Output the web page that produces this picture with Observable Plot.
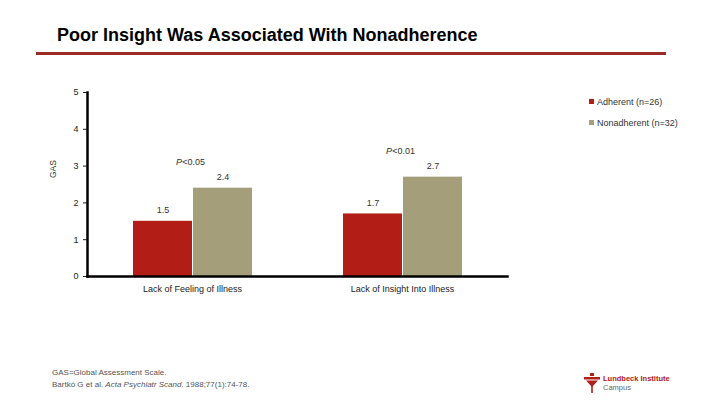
<!DOCTYPE html>
<html><head><meta charset="utf-8">
<script src="https://cdn.jsdelivr.net/npm/d3@7"></script>
<script src="https://cdn.jsdelivr.net/npm/@observablehq/plot@0.6"></script>
<style>
  html, body { margin: 0; padding: 0; background: #fff; }
  #page { position: relative; width: 720px; height: 405px; overflow: hidden; background: #fff; font-family: "Liberation Sans", Arial, sans-serif; }
  #title { position: absolute; left: 57px; top: 25px; font-size: 18px; font-weight: bold; color: #000; white-space: nowrap; }
  #rule { position: absolute; left: 36px; top: 52px; width: 630px; height: 3px; background: #9b2b24; }
  #chart { position: absolute; left: 0; top: 60px; }
  #ylab { position: absolute; left: 46px; top: 166px; font-size: 8.5px; color: #333; transform: rotate(-90deg); transform-origin: center; width: 14px; text-align: center; }
  .leg { position: absolute; left: 589px; font-size: 9px; color: #333; white-space: nowrap; }
  .leg i { display: inline-block; width: 5px; height: 5px; margin-right: 3px; vertical-align: 1px; }
  #foot1 { position: absolute; left: 52px; top: 368px; font-size: 8px; color: #555; white-space: nowrap; }
  #foot2 { position: absolute; left: 52px; top: 380px; font-size: 8px; color: #555; white-space: nowrap; }
  #logo { position: absolute; left: 584px; top: 373px; }
  #logo1 { position: absolute; left: 603px; top: 374px; font-size: 7.5px; font-weight: bold; color: #b0201a; white-space: nowrap; }
  #logo2 { position: absolute; left: 603px; top: 383px; font-size: 7.5px; color: #666; white-space: nowrap; }
</style>
</head><body>
<div id="page">
  <div id="title">Poor Insight Was Associated With Nonadherence</div>
  <div id="rule"></div>
  <div id="chart"></div>
  <div id="ylab">GAS</div>
  <div id="legend"></div>
  <div id="foot1">GAS=Global Assessment Scale.</div>
  <div id="foot2">Bartkó G et al. <i>Acta Psychiatr Scand.</i> 1988;77(1):74-78.</div>
  <svg id="logo" width="16" height="20" viewBox="0 0 16 20">
    <rect x="6" y="0" width="4" height="3" fill="#b0201a"/>
    <rect x="0" y="4" width="16" height="2.5" fill="#b0201a"/>
    <path d="M2 7.5 L14 7.5 L8 14 Z" fill="#b0201a"/>
    <rect x="7.2" y="12" width="1.6" height="8" fill="#b0201a"/>
  </svg>
  <div id="logo1">Lundbeck Institute</div>
  <div id="logo2">Campus</div>
</div>
<script>
const categories = ["Lack of Feeling of Illness", "Lack of Insight Into Illness"];
const seriesNames = ["Adherent (n=26)", "Nonadherent (n=32)"];
const adherentValues = [1.5, 1.7];
const nonadherentValues = [2.4, 2.7];
const pLabels = ["P<0.05", "P<0.01"];
const yTicks = [0, 1, 2, 3, 4, 5];
const colors = ["#b21e16", "#a59e7b"];

const rows = categories.flatMap((c, i) => [
  {category: c, series: seriesNames[0], value: adherentValues[i]},
  {category: c, series: seriesNames[1], value: nonadherentValues[i]}
]);
const pRows = categories.map((c, i) => ({
  category: c, label: pLabels[i], top: Math.max(adherentValues[i], nonadherentValues[i])
}));

const plot = Plot.plot({
  width: 720,
  height: 245,
  marginLeft: 86,
  marginRight: 213,
  marginTop: 32,
  marginBottom: 29,
  style: {fontFamily: "Liberation Sans, Arial, sans-serif", fontSize: "9px", color: "#222", background: "transparent"},
  fx: {domain: categories, padding: 0, label: null, tickSize: 0, tickPadding: 9, axis: "bottom"},
  x: {domain: seriesNames, paddingInner: 0.02, paddingOuter: 0.74, axis: null},
  y: {domain: [0, 5], ticks: yTicks, tickSize: 4, tickPadding: 5, label: null, tickFormat: d3.format("d")},
  color: {domain: seriesNames, range: colors},
  marks: [
    Plot.barY(rows, {fx: "category", x: "series", y: "value", fill: "series"}),
    Plot.text(rows, {fx: "category", x: "series", y: "value", text: d => d.value.toFixed(1), lineAnchor: "bottom", dy: -8, fill: "#333"}),
    Plot.text(pRows, {fx: "category", y: "top", text: "label", lineAnchor: "bottom", dy: -23, dx: -2, fill: "#333"}),
    Plot.frame({anchor: "bottom", facet: "super", stroke: "#000", strokeWidth: 2.5}),
    Plot.frame({anchor: "left", facet: "super", stroke: "#000", strokeWidth: 2.5})
  ]
});

d3.select(plot).selectAll("text").each(function() {
  const t = this.textContent;
  if (/^P</.test(t)) {
    const s = d3.select(this);
    s.text(null);
    s.append("tspan").attr("font-style", "italic").text("P");
    s.append("tspan").text(t.slice(1));
  }
});
document.getElementById("chart").appendChild(plot);

const legend = d3.select("#legend");
seriesNames.forEach((name, i) => {
  const row = legend.append("div").attr("class", "leg").style("top", (97 + i * 21) + "px");
  row.append("i").style("background", colors[i]);
  row.append("span").text(name);
});
</script>
</body></html>
